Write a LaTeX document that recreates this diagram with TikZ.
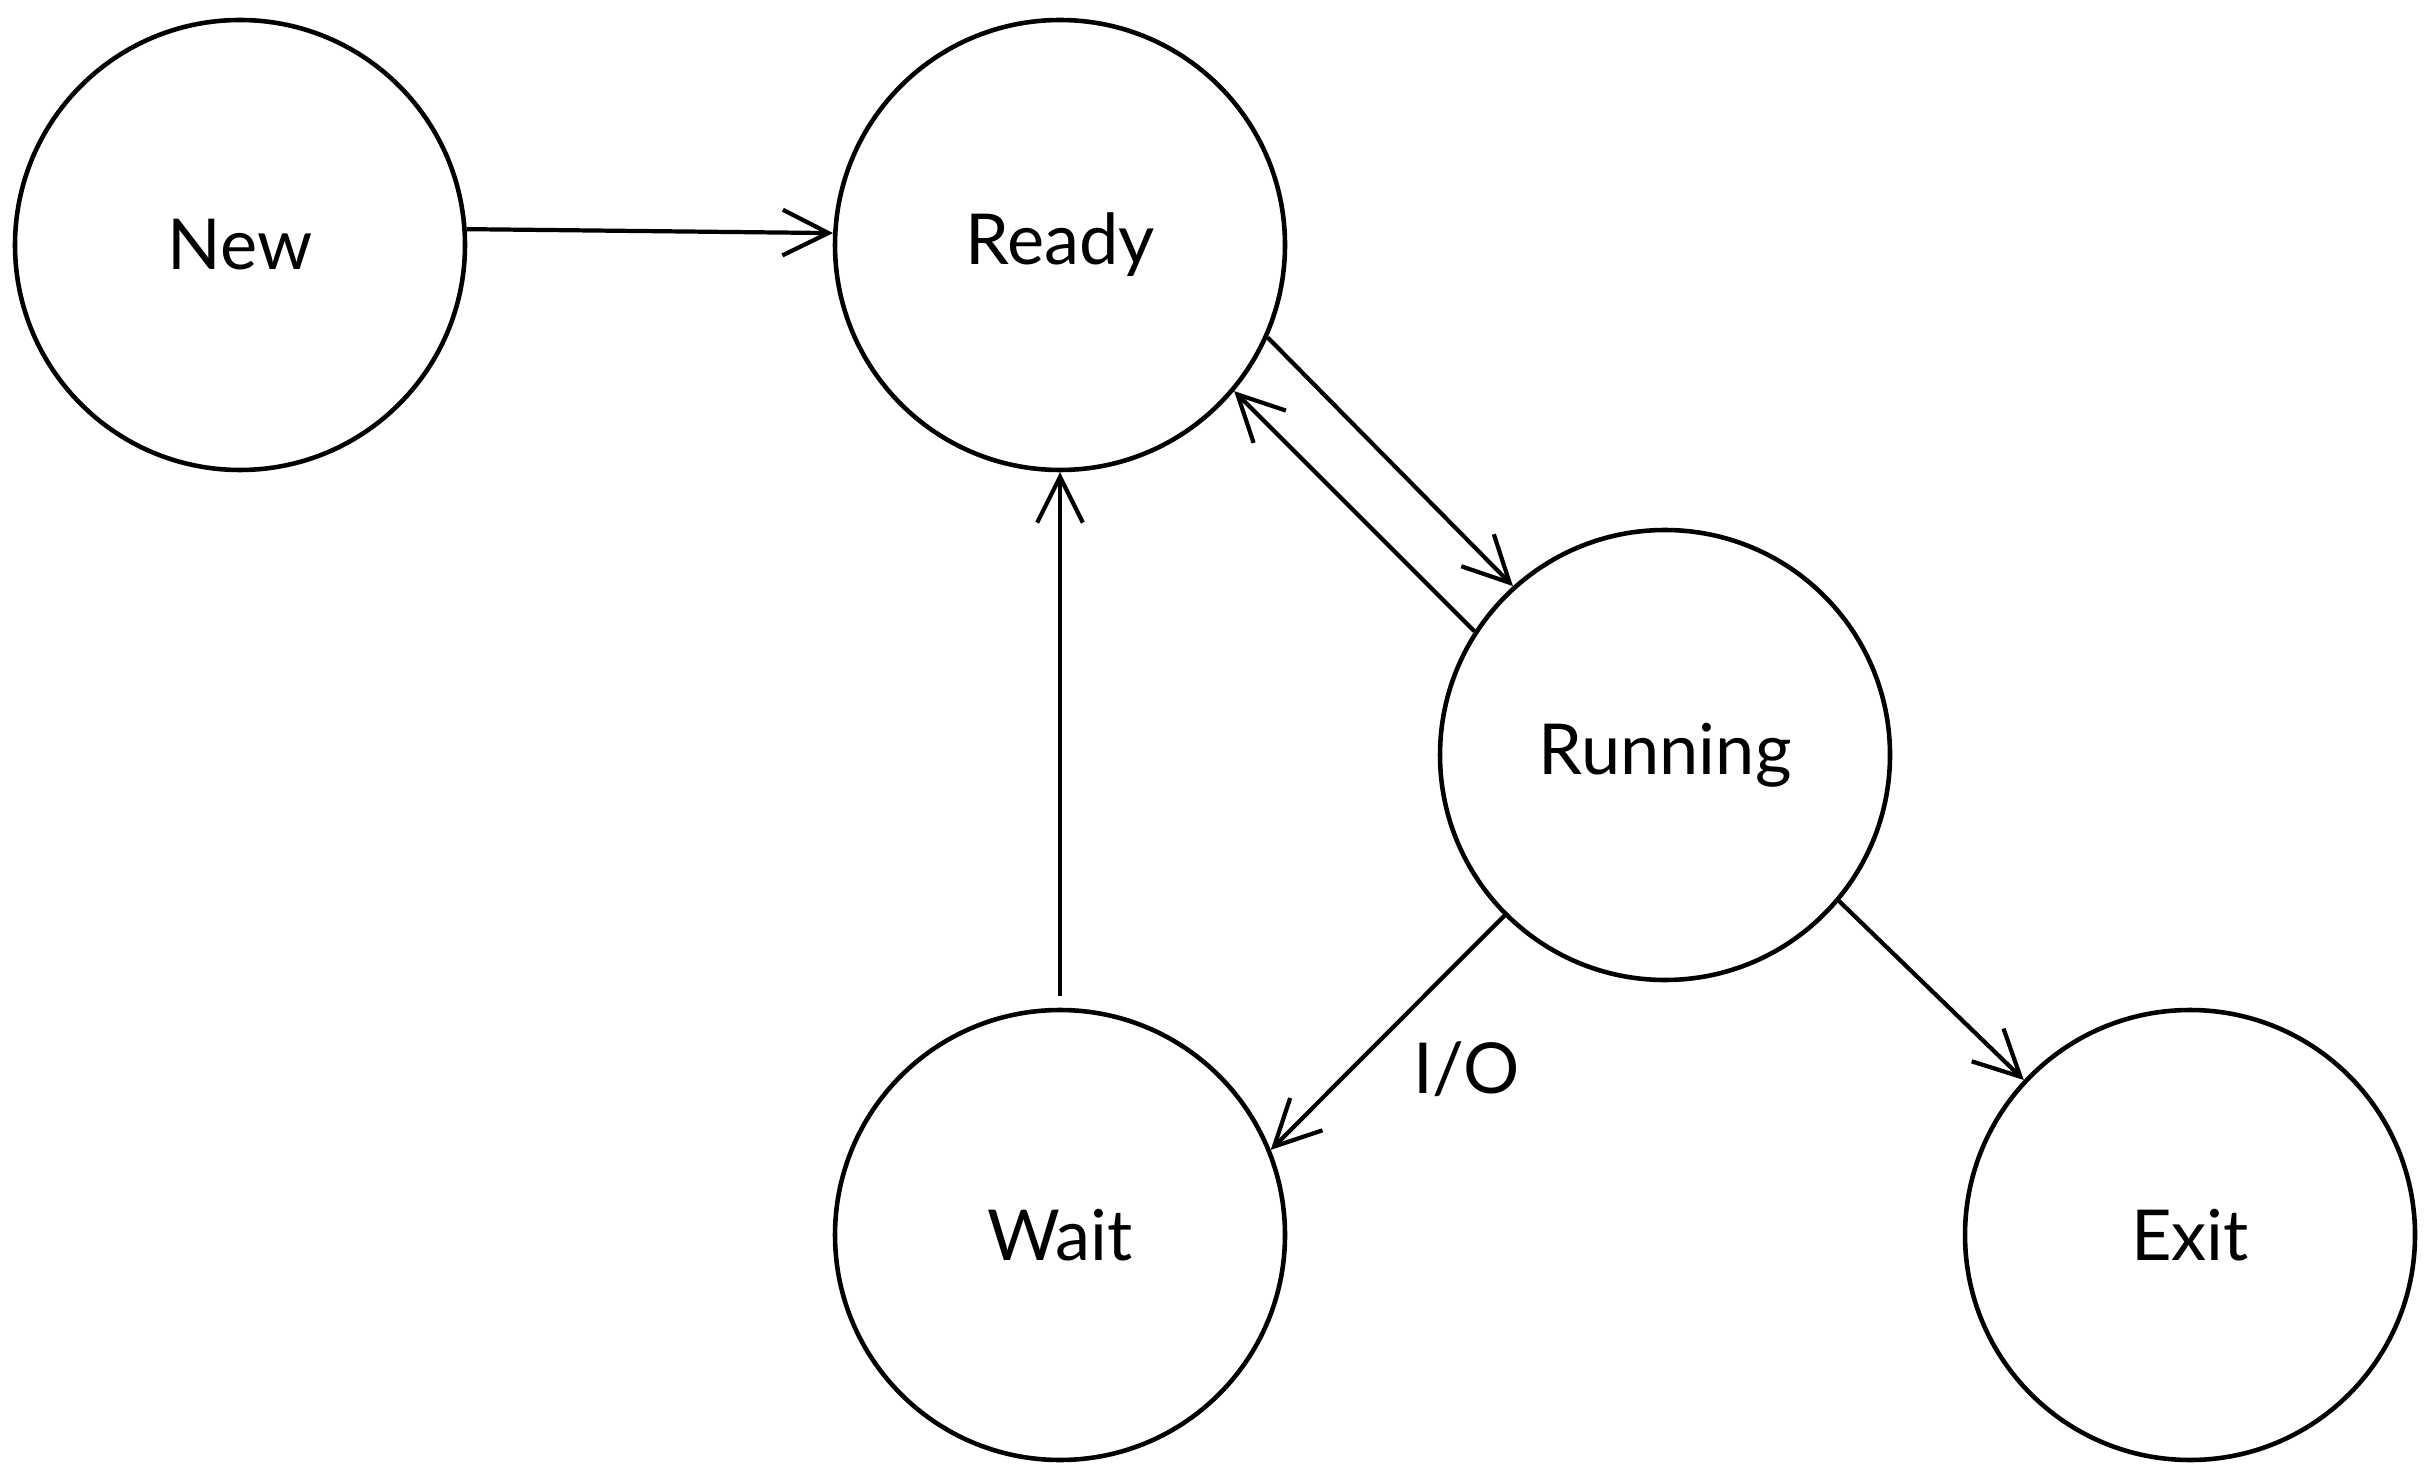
\documentclass[tikz,border=0pt]{standalone}
\usepackage{fontspec}
\setmainfont{Lato}
\usetikzlibrary{arrows.meta,positioning}

\begin{document}
\begin{tikzpicture}
	\newcommand\hsep{8.2cm}
	\newcommand\dsx{6.05cm}
	\newcommand\dsy{5.1cm}
	\newcommand\vsep{9.9cm}
	\newcommand\wsep{11.3cm}
	\tikzset{
		state/.style={circle, draw, line width=1.3pt, minimum size=4.5cm,
			font=\fontsize{20}{24}\selectfont},
		trans/.style={line width=1.2pt,
			-{Straight Barb[length=13pt, width=13pt, line width=1.2pt]}},
	}
	\useasboundingbox (0,0) rectangle (24.28,-14.76);
	% states
	\node[state] (new) at (2.40,-2.45) {New};
	\node[state, on grid, right=\hsep of new] (ready) {Ready};
	\node[state, on grid, below right=\dsy and \dsx of ready] (running) {Running};
	\node[state, on grid, below=\vsep of ready] (wait) {Wait};
	\node[state, on grid, right=\wsep of wait] (exit) {Exit};
	% transitions
	\draw[trans] (new.4) -- (ready.177);
	\draw[trans] (ready.-24) -- (running.132);
	\draw[trans] (running.147) -- (ready.-40);
	\draw[trans] (running.-135) -- node[pos=0.45, below right=2pt and 0pt, font=\fontsize{20}{24}\selectfont] (io) {I/O} (wait.22);
	\draw[trans] (running.-40) -- (exit.137);
	\draw[trans] ([yshift=0.12cm]wait.north) -- (ready.south);
\end{tikzpicture}
\end{document}
